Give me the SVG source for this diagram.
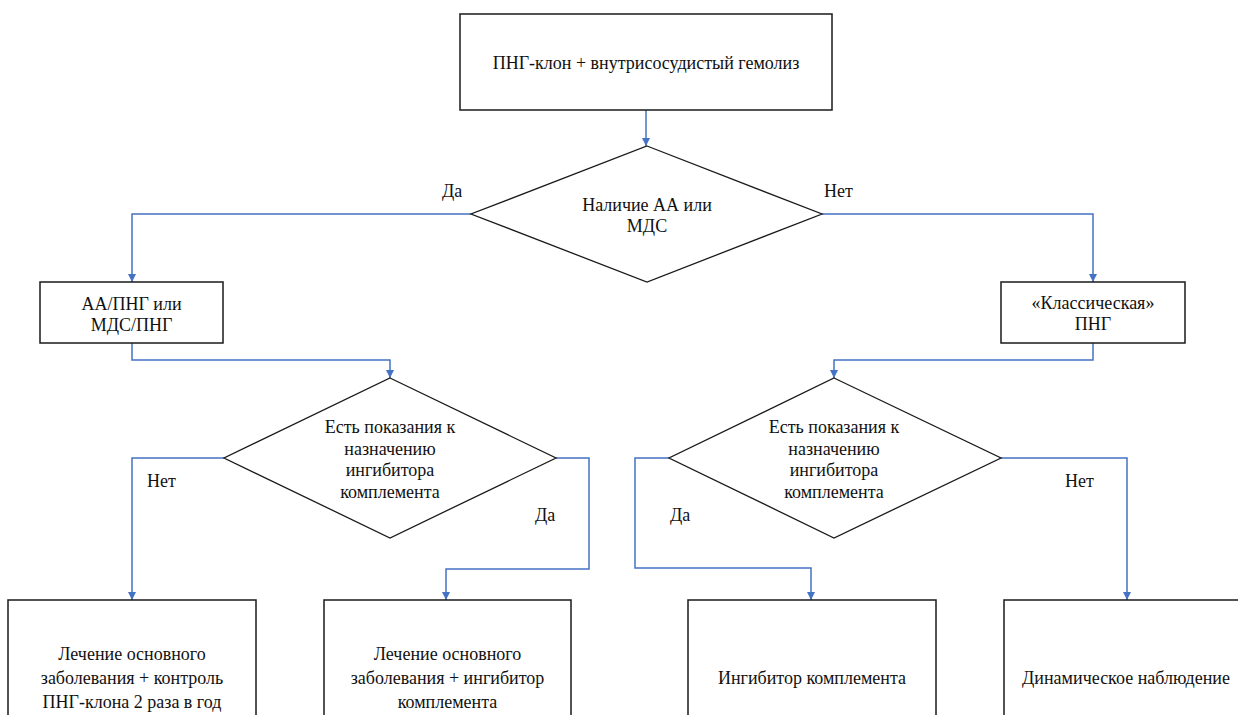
<svg xmlns="http://www.w3.org/2000/svg" width="1238" height="715" viewBox="0 0 1238 715">
<style>
.box{fill:#fff;stroke:#1a1a1a;stroke-width:1.5}
.dia{fill:#fff;stroke:#1a1a1a;stroke-width:1.3}
text{font-family:'Times New Roman',Times,Tinos,'Liberation Serif','Noto Serif','DejaVu Serif',FreeSerif,'Nimbus Roman',serif;font-size:18px;fill:#111}
.t{text-anchor:middle}
.c{fill:none;stroke:#4472C4;stroke-width:1.5;marker-end:url(#ah)}
</style>
<defs>
<marker id="ah" markerUnits="userSpaceOnUse" markerWidth="9" markerHeight="9" refX="8" refY="4" orient="auto">
<path d="M0,0 L8,4 L0,8 z" fill="#4472C4"/>
</marker>
</defs>
<rect width="1238" height="715" fill="#fff"/>
<g id="connectors">
<path class="c" d="M646,110 V146"/>
<path class="c" d="M471,214 H132 V282"/>
<path class="c" d="M822,214 H1093 V282"/>
<path class="c" d="M132,343 V360 H390 V378"/>
<path class="c" d="M1093,343 V360 H834 V378"/>
<path class="c" d="M224,458 H132 V600"/>
<path class="c" d="M556,458 H589 V569 H446 V600"/>
<path class="c" d="M669,458 H635 V568 H811 V600"/>
<path class="c" d="M1001,458 H1127 V600"/>
</g>
<g id="labels">
<text x="442" y="197">Да</text>
<text x="824" y="197">Нет</text>
<text x="147" y="487">Нет</text>
<text x="535" y="521">Да</text>
<text x="670" y="521">Да</text>
<text x="1065" y="487">Нет</text>
</g>
<g id="start">
<rect class="box" x="460" y="14" width="372" height="96"/>
<text class="t" x="646" y="69">ПНГ-клон + внутрисосудистый гемолиз</text>
</g>
<g id="decision1">
<polygon class="dia" points="647,146 822,214 647,282 471,214"/>
<text class="t" x="647" y="211">Наличие АА или</text>
<text class="t" x="647" y="232">МДС</text>
</g>
<g id="aa_png">
<rect class="box" x="40" y="282" width="183" height="61"/>
<text class="t" x="131.5" y="310">АА/ПНГ или</text>
<text class="t" x="131.5" y="331">МДС/ПНГ</text>
</g>
<g id="classic_png">
<rect class="box" x="1001" y="282" width="184" height="61"/>
<text class="t" x="1093" y="309">«Классическая»</text>
<text class="t" x="1093" y="330">ПНГ</text>
</g>
<g id="decision2">
<polygon class="dia" points="390,378 556,458 390,538 224,458"/>
<text class="t" x="390" y="433">Есть показания к</text>
<text class="t" x="390" y="454.5">назначению</text>
<text class="t" x="390" y="476">ингибитора</text>
<text class="t" x="390" y="497.5">комплемента</text>
</g>
<g id="decision3">
<polygon class="dia" points="834,378 1001,458 834,538 669,458"/>
<text class="t" x="834" y="433">Есть показания к</text>
<text class="t" x="834" y="454.5">назначению</text>
<text class="t" x="834" y="476">ингибитора</text>
<text class="t" x="834" y="497.5">комплемента</text>
</g>
<g id="result1">
<rect class="box" x="8" y="600" width="248" height="130"/>
<text class="t" x="132" y="660">Лечение основного</text>
<text class="t" x="132" y="684">заболевания + контроль</text>
<text class="t" x="132" y="708">ПНГ-клона 2 раза в год</text>
</g>
<g id="result2">
<rect class="box" x="324" y="600" width="247" height="130"/>
<text class="t" x="447.5" y="660">Лечение основного</text>
<text class="t" x="447.5" y="684">заболевания + ингибитор</text>
<text class="t" x="447.5" y="708">комплемента</text>
</g>
<g id="result3">
<rect class="box" x="688" y="600" width="248" height="130"/>
<text class="t" x="812" y="684">Ингибитор комплемента</text>
</g>
<g id="result4">
<rect class="box" x="1004" y="600" width="244" height="130"/>
<text class="t" x="1126" y="684">Динамическое наблюдение</text>
</g>
</svg>
